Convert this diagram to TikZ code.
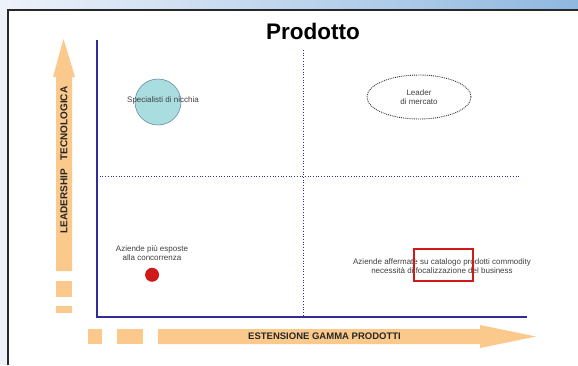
\documentclass[tikz,border=0pt]{standalone}
\usepackage{fontspec}
\setmainfont{Liberation Sans}
\usetikzlibrary{positioning, calc, shapes.geometric}
\definecolor{AxisColor}{RGB}{46, 46, 150}
\definecolor{ArrowColor}{RGB}{251, 201, 140}
\definecolor{NicheColor}{RGB}{169, 221, 224}
\definecolor{NicheLine}{RGB}{100, 140, 160}
\definecolor{DotColor}{RGB}{208, 26, 26}
\definecolor{BandLeft}{RGB}{238, 242, 250}
\definecolor{BandRight}{RGB}{143, 184, 224}
\definecolor{FrameColor}{RGB}{40, 40, 40}
\tikzset{
    axis/.style={
        draw=AxisColor,
        line width=1.4pt
    },
    divider/.style={
        draw=AxisColor,
        line width=0.7pt,
        dotted
    },
    label/.style={
        font=\fontsize{8}{9}\selectfont,
        text=black!75,
        align=center,
        inner sep=1pt
    },
    axislabel/.style={
        font=\fontsize{9.5}{10}\selectfont\bfseries,
        text=black!85,
        inner sep=0pt
    },
    block/.style={
        fill=ArrowColor
    }
}

\begin{document}
\begin{tikzpicture}[x=1pt, y=-1pt]

    % ============================================================================
    % BACKGROUND
    % ============================================================================

    \useasboundingbox (0,0) rectangle (578,365);
    \fill[BandLeft] (0,0) rectangle (8,365);
    \shade[left color=BandLeft, right color=BandRight] (0,0) rectangle (578,10);
    \fill[white] (8,10) rectangle (578,365);
    \draw[FrameColor, line width=1.2pt] (8,365) -- (8,10) -- (578,10);

    % Title
    \node[font=\fontsize{22.5}{25}\selectfont\bfseries] (Title) at (313,31) {Prodotto};

    % ============================================================================
    % ORANGE ARROWS
    % ============================================================================

    % Vertical arrow: Leadership tecnologica
    \fill[block] (56,271) -- (56,77) -- (53,77) -- (63.5,39) -- (75,77) -- (72,77) -- (72,271) -- cycle;
    \fill[block] (56,281) rectangle (72,297);
    \fill[block] (56,306) rectangle (72,313);
    \node[axislabel, font=\fontsize{10}{11}\selectfont\bfseries, rotate=90] (LeadLabel) at (64,160) {LEADERSHIP\ \ \ TECNOLOGICA};

    % Horizontal arrow: Estensione gamma prodotti
    \fill[block] (158,329) -- (480,329) -- (480,325) -- (536,336.5) -- (480,348) -- (480,344) -- (158,344) -- cycle;
    \fill[block] (88,329) rectangle (102,344);
    \fill[block] (117,329) rectangle (143,344);
    \node[axislabel] (RangeLabel) at (324.5,336.5) {ESTENSIONE GAMMA PRODOTTI};

    % ============================================================================
    % AXES AND QUADRANTS
    % ============================================================================

    \coordinate (Origin) at (97,317);
    \coordinate (YTop) at (97,40);
    \coordinate (XEnd) at (527,317);
    \coordinate (MidTop) at (303,50);
    \coordinate (MidBottom) at (303,317);
    \coordinate (MidLeft) at (97,176);
    \coordinate (MidRight) at (520,176);

    \draw[divider] (MidTop) -- (MidBottom);
    \draw[divider] (MidLeft) -- (MidRight);
    \draw[axis] (YTop) -- (Origin) -- (XEnd);

    % ============================================================================
    % QUADRANT CONTENTS
    % ============================================================================

    % Top left: niche specialists
    \node[circle, fill=NicheColor, draw=NicheLine, line width=0.6pt, minimum size=46pt] (Niche) at (158,102) {};
    \node[label] (NicheText) at (163,100) {Specialisti di nicchia};

    % Top right: market leaders
    \node[ellipse, draw=black!80, line width=0.9pt, densely dotted, minimum width=104pt, minimum height=44pt] (Leader) at (419,97) {};
    \node[label] (LeaderText) at (Leader.center) {Leader\\di mercato};

    % Bottom left: exposed companies
    \node[label] (Exposed) at (152,253) {Aziende più esposte\\alla concorrenza};
    \node[circle, fill=DotColor, minimum size=14pt, inner sep=0pt, below right=8pt and -5pt of Exposed.south] (ExposedDot) {};

    % Bottom right: established companies
    \node[label] (Established) at (442,266) {Aziende affermate su catalogo prodotti commodity\\necessità di focalizzazione del business};
    \draw[DotColor, line width=1.4pt] (414,249) rectangle (473,281);

\end{tikzpicture}
\end{document}
